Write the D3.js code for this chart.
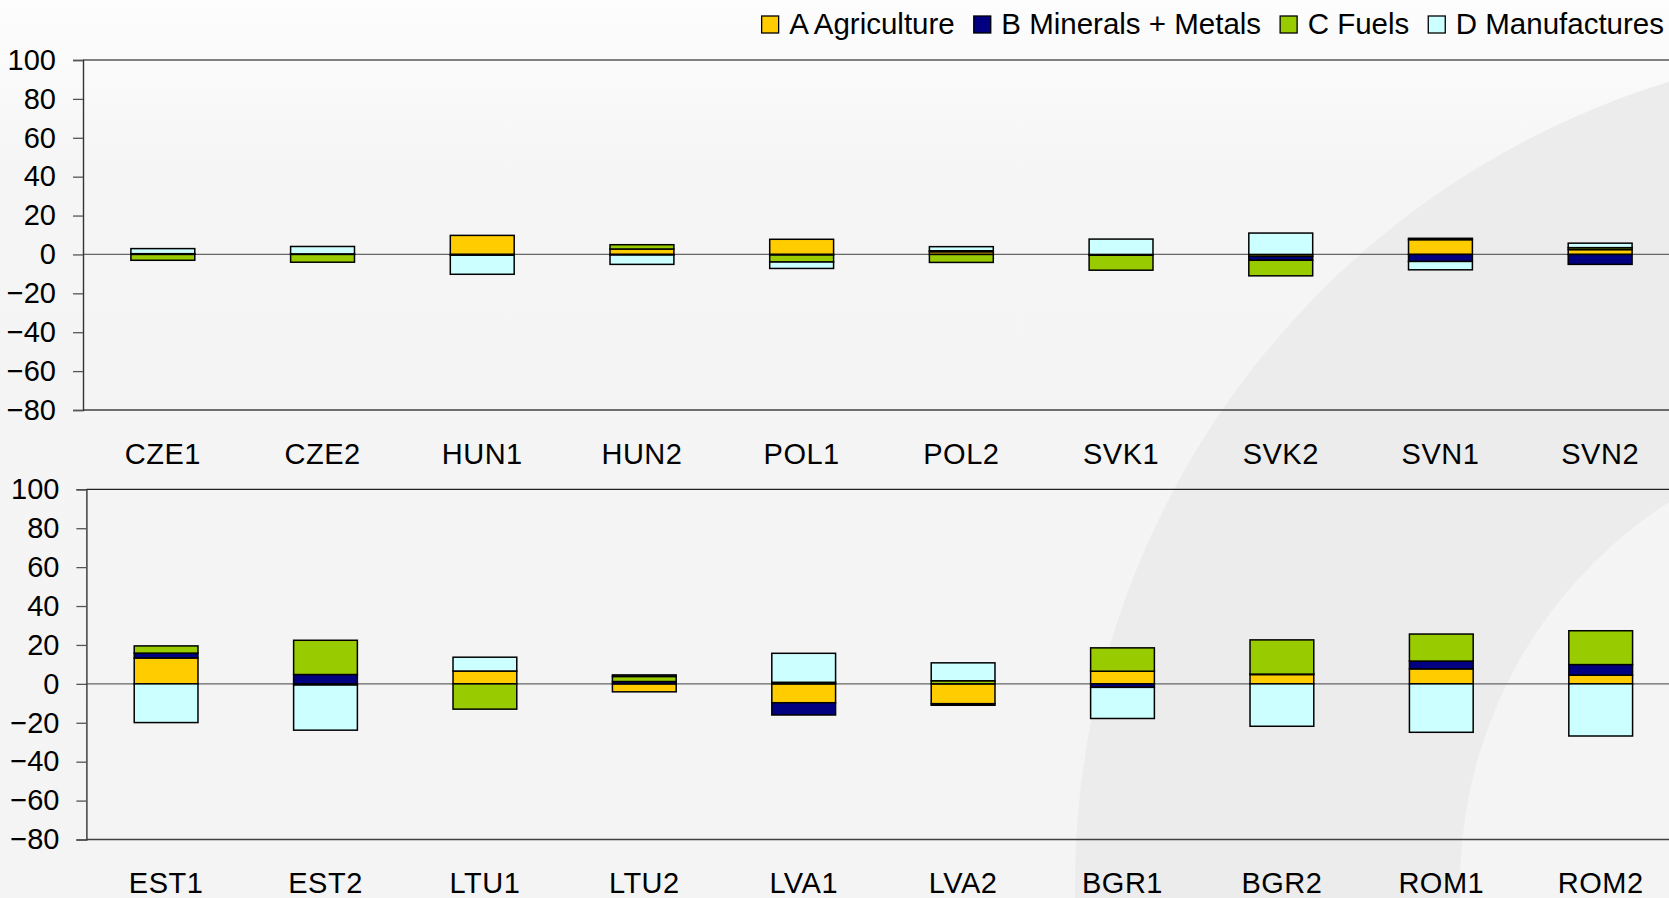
<!DOCTYPE html>
<html>
<head>
<meta charset="utf-8">
<script src="https://cdn.jsdelivr.net/npm/d3@7"></script>
<style>
  html, body { margin: 0; padding: 0; background: #f4f4f4; }
  svg { display: block; }
  text { font-family: Arial, "Liberation Sans", sans-serif; fill: #000; }
</style>
</head>
<body>
<div id="chart-area"></div>
<script>
// categories per panel
var topCats = ["CZE1", "CZE2", "HUN1", "HUN2", "POL1", "POL2", "SVK1", "SVK2", "SVN1", "SVN2"];
var botCats = ["EST1", "EST2", "LTU1", "LTU2", "LVA1", "LVA2", "BGR1", "BGR2", "ROM1", "ROM2"];

// series values, top panel
var topA = [0,    0,    9.8,  2.8,  7.8,  1.4,  0,    -1.0, 7.6,  2.5];
var topB = [0.4,  0.3,  -0.4, -0.3, -0.3, 0.5,  -0.4, -2.0, -3.6, -5.1];
var topC = [-3.0, -4.0, 0,    2.2,  -3.6, -4.1, -7.7, -8.0, 0.7,  1.0];
var topD = [2.6,  3.8,  -9.8, -4.8, -3.3, 2.1,  7.9,  11.0, -4.3, 2.3];

// series values, bottom panel
var botA = [13.3, -0.6,  6.6,   -4.1, -9.7, -10.2, 6.5,   4.8,   7.7,   4.5];
var botB = [2.5,  4.8,   0,     1.2,  -6.3, -0.8,  -1.8,  0.2,   4.0,   5.4];
var botC = [3.7,  17.6,  -13.0, 2.6,  0.8,  1.6,   12.0,  17.6,  13.9,  17.4];
var botD = [-19.9, -23.2, 7.1,  0.8,  14.9, 9.2,   -16.0, -21.8, -24.9, -26.8];

var seriesNames = ["A Agriculture", "B Minerals + Metals", "C Fuels", "D Manufactures"];
var seriesColors = ["#FFCC00", "#000080", "#99CC00", "#CCFFFF"];
var yTicks = [100, 80, 60, 40, 20, 0, -20, -40, -60, -80];

var W = 1669, H = 898;

var svg = d3.select("#chart-area")
    .append("svg")
        .attr("width", W)
        .attr("height", H);

// background: soft gradient plus the big grey ring of the slide template
var defs = svg.append("defs");
var grad = defs.append("linearGradient")
    .attr("id", "bg").attr("x1", 0).attr("y1", 0).attr("x2", 0).attr("y2", 1);
grad.append("stop").attr("offset", "0%").attr("stop-color", "#fdfdfd");
grad.append("stop").attr("offset", "20%").attr("stop-color", "#f5f5f5");
grad.append("stop").attr("offset", "100%").attr("stop-color", "#f4f4f4");

svg.append("rect")
    .attr("width", W).attr("height", H)
    .attr("fill", "url(#bg)");

var ring = d3.arc()
    .innerRadius(455)
    .outerRadius(840)
    .startAngle(0)
    .endAngle(2 * Math.PI);
svg.append("path")
    .attr("d", ring())
    .attr("transform", "translate(1915,885)")
    .attr("fill", "#ececec");

function drawPanel(cats, A, B, C, D, opt) {
    var rows = cats.map(function(c, i) {
        return { cat: c, A: A[i], B: B[i], C: C[i], D: D[i] };
    });

    var x = d3.scaleBand()
        .domain(cats)
        .range([opt.x0, opt.x0 + opt.step * cats.length])
        .paddingInner(0.6)
        .paddingOuter(0.3);

    var y = d3.scaleLinear()
        .domain([-80, 100])
        .range([opt.yBottom, opt.yTop]);

    var g = svg.append("g");

    // plot area frame (top and bottom)
    g.append("line")
        .attr("x1", opt.x0).attr("x2", W)
        .attr("y1", y(100)).attr("y2", y(100))
        .attr("stroke", opt.topColor).attr("stroke-width", opt.topWidth);
    g.append("line")
        .attr("x1", opt.x0).attr("x2", W)
        .attr("y1", y(-80)).attr("y2", y(-80))
        .attr("stroke", "#404040").attr("stroke-width", 1.3);

    // zero line
    g.append("line")
        .attr("x1", opt.x0).attr("x2", W)
        .attr("y1", y(0)).attr("y2", y(0))
        .attr("stroke", "#666").attr("stroke-width", 1.3);

    // y axis
    var yAxis = d3.axisLeft(y)
        .tickValues(yTicks)
        .tickSize(10)
        .tickPadding(17)
        .tickFormat(d3.format("d"));
    var ya = g.append("g")
        .attr("transform", "translate(" + opt.x0 + ",0)")
        .call(yAxis);
    ya.select(".domain").attr("stroke", "#333").attr("stroke-width", 1.4);
    ya.selectAll(".tick line").attr("stroke", "#555").attr("stroke-width", 1.3);
    ya.selectAll(".tick text")
        .style("font-size", "29px")
        .style("font-family", "Arial, 'Liberation Sans', sans-serif")
        .attr("fill", "#000");

    // stacked bars
    var stack = d3.stack()
        .keys(["A", "B", "C", "D"])
        .offset(d3.stackOffsetDiverging);
    var layers = stack(rows);

    g.selectAll("g.layer")
        .data(layers)
        .join("g")
            .attr("class", "layer")
            .attr("fill", function(d, i) { return seriesColors[i]; })
        .selectAll("rect")
        .data(function(d) { return d; })
        .join("rect")
            .attr("x", function(d) { return x(d.data.cat); })
            .attr("width", x.bandwidth())
            .attr("y", function(d) { return y(Math.max(d[0], d[1])); })
            .attr("height", function(d) { return Math.abs(y(d[0]) - y(d[1])); })
            .attr("stroke", "#000")
            .attr("stroke-width", 1.5);

    // category labels below the plot
    g.selectAll("text.cat")
        .data(cats)
        .join("text")
            .attr("class", "cat")
            .attr("x", function(d) { return x(d) + x.bandwidth() / 2; })
            .attr("y", opt.labelY)
            .attr("text-anchor", "middle")
            .style("font-size", "29px")
            .style("letter-spacing", "0.5px")
            .text(function(d) { return d; });
}

drawPanel(topCats, topA, topB, topC, topD, {
    x0: 83, step: 159.7, yTop: 60, yBottom: 410, labelY: 464,
    topColor: "#808080", topWidth: 2
});
drawPanel(botCats, botA, botB, botC, botD, {
    x0: 86.4, step: 159.4, yTop: 489.3, yBottom: 839.5, labelY: 893,
    topColor: "#222", topWidth: 1.3
});

// legend, right aligned at the top
var legend = svg.append("g");
var right = 1664;
for (var i = seriesNames.length - 1; i >= 0; i--) {
    var t = legend.append("text")
        .attr("y", 34)
        .style("font-size", "29.5px")
        .text(seriesNames[i]);
    var w = t.node().getComputedTextLength();
    t.attr("x", right - w);
    legend.append("rect")
        .attr("x", right - w - 10.5 - 17)
        .attr("y", 16)
        .attr("width", 17)
        .attr("height", 17)
        .attr("fill", seriesColors[i])
        .attr("stroke", "#000")
        .attr("stroke-width", 1.3);
    right = right - w - 10.5 - 17 - 19;
}
</script>
</body>
</html>
